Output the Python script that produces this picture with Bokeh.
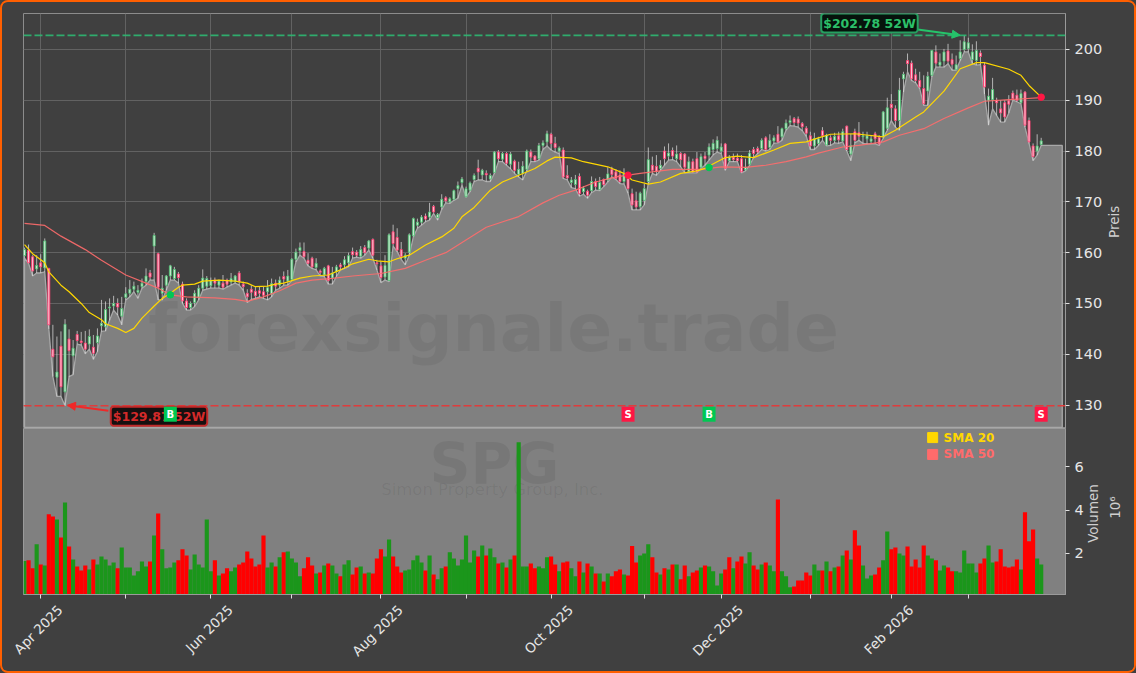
import math
from bokeh.core.properties import value
from bokeh.embed import file_html
from bokeh.layouts import column
from bokeh.models import (Arrow, ColumnDataSource, FixedTicker, GlobalInlineStyleSheet, Label,
                          LinearAxis, NormalHead, Range1d, Span)
from bokeh.plotting import figure
from bokeh.resources import INLINE

opens = [159.4,160.5,159.2,156.8,158,157,156.9,141,135.5,141.6,
132.6,143,139.7,143.9,142.6,142.2,142,141.4,142.3,145.6,
145.4,149.1,149.5,150,147.5,151.2,152,152.8,152.2,153.3,
154.3,156,161.3,159.8,152,153.6,155.4,154.9,155.8,153.8,
150.5,149.2,150.2,151.2,153,153.4,153.5,154.6,153.6,154,
154.6,154.2,154.3,156,153.8,152,152.8,152.4,152.5,152.3,
152.3,151.9,154,153.6,155.3,154.4,154.7,158.7,160.4,160.2,
158.5,158.9,157.1,156.4,155.6,157.4,155,156.2,157.6,157.6,
158,160.2,160.1,159.3,161,160.9,162.6,158,157.4,155.2,
154.5,164.1,163,160.6,158.9,160.1,163.3,165.4,166,167.2,
167,169.1,166.9,169,170.8,170,170.5,172.6,173.8,171,
172.3,174.4,176.6,175.3,175.6,174.5,175.8,179.8,178.4,179.5,
177.4,178,175.4,175.6,176.4,179.8,179,178.5,181.1,181.8,
183.3,181.5,180,180.2,175.2,173.8,173.4,175,172,172.1,
172.2,174,172.4,174.4,174.3,176.4,175.9,175.3,174,174.6,
171.6,170.2,169.1,170.3,174,177.2,177,176.6,180,179,
180.1,178.5,179.5,179.4,175.9,177.9,178.5,176.8,179,179.2,
180.3,180.5,180,181.4,178.1,178.8,178.6,178.5,176.3,177.4,
180.3,180.5,180.5,182.6,180.7,182,183.3,182.8,184.4,185.6,
186.4,186.3,185.4,184.5,183,181,181.5,184,181.2,182.6,
182.1,183,182,184.9,179.4,183.8,183.6,182.8,182.4,181.9,
183.4,182.7,182.8,184.5,189.2,188.3,186,194.2,197.8,197.3,
195,193.9,192.3,191.8,194.9,199.5,196.9,197.7,199.7,198,
196,198.2,200,200.2,198,197.8,199.3,196.9,190,190.1,
190,188.3,189.5,189.9,191.4,191,189.5,191.6,186,181,180,181.3]

closes = [160.6,158,156.4,157.5,157.2,162.3,145.8,139.5,136.5,133.6,
145.9,140.7,141.2,142.7,142.3,141,143.5,140.2,143.6,146.1,
148.8,149.3,150,149.3,149,151.9,152.8,153.4,152.6,154,
155.4,155.2,163.4,153.2,153,155.4,157.4,156.7,155.1,150.5,
149.2,150,152,153,155,154.9,154.5,154,154.4,153.2,
153.8,154.9,155.4,154.3,153.3,151.3,152.2,151.5,152,151.6,
153.1,153.9,153.4,154.6,154.8,155.4,158.7,160.1,161,159.2,
157.9,157.2,157.9,156.1,156.9,154.5,156,157.2,157.2,158.6,
159.4,159.6,159.5,160.6,160,162.3,159.5,157.8,155.1,157.5,
163.5,161.8,160.5,159.2,159.5,163.5,166.7,166,167,166.6,
168,168,167.5,170.5,170.2,170.6,172.2,173.2,174.5,172.6,
173.7,175.2,175.9,176.2,175.3,175.2,179.8,178.5,179.5,177.6,
179.4,176.2,176.4,177,180,178.8,178.2,181.1,181.6,183.4,
181.5,180.7,180.6,174.9,174.7,174.3,174.4,171.6,172.7,171.3,
174,173,173.8,173.4,175.5,175.4,174.6,174,175.5,172.6,
169.4,169,171.7,172.6,178.3,176.2,176,177.2,178.5,179.6,
179,179.4,178.3,176.8,177.9,175.9,175.9,178.9,178.5,180.8,
181.5,182.1,180.8,176.6,178.8,178.3,178.1,175.9,176.8,179.6,
179.5,179.8,182.1,180.3,182.1,182.6,181.8,184.4,185.5,186,
185.6,185.5,184.8,183.5,181,182.5,182.4,183,183.1,182.1,
182.9,182.2,183.8,180.3,181.1,182.1,182.9,183,183,182.4,
182.4,181.4,187.7,188.5,188.5,186,192,195.1,197.2,194.2,
193.9,192.6,189.3,194.7,199.8,197.3,197.5,199.5,197.7,197.1,
197,199.5,201.5,201.3,199.5,199.8,198.6,192.6,190.8,192.1,
189.5,187.5,186.7,189.2,190.3,190,191.3,185.1,181.8,178.9,181,182]

highs = [161,161.6,159.5,159.5,159.7,162.8,157,145.8,143.5,144.5,
146.9,144.9,142.8,144.6,144.4,144.6,144.9,143.8,145.1,150.7,
150.4,151,151.5,151,151.3,153.2,154.6,154.3,153.6,154.9,
156.9,156.6,163.9,160,155.6,155.6,157.6,157.2,156.2,154.3,
151,150.4,152.6,153.6,156.7,155.4,155.1,155.1,154.7,155.6,
154.9,156,155.6,156.4,154.3,152.8,153.6,153.3,153.4,153.3,
154.6,154.9,154.7,155.3,156.3,156.6,158.9,160.8,162,162,
159.9,159.2,158.9,156.7,157.2,157.6,157.2,157.6,158,159.3,
160,161,160.5,161.3,161.5,162.5,162.8,158.6,158.2,159.5,
163.8,165.5,164.8,162.1,159.9,163.8,166.9,166.7,167.4,167.7,
169.8,169.4,167.8,171.5,171.1,170.9,172.4,174,174.9,173,
174,175.6,178.3,176.5,176.2,175.6,180,180.2,179.8,179.8,
179.8,178.3,177.9,178,180.3,180.3,179.2,181.6,182.1,184,
183.6,182.8,180.9,180.7,177.2,174.9,175.3,175.6,173.1,172.4,
175,174.6,174.9,174.6,176.8,176.9,176.4,176.2,176.6,175.6,
172.6,172,172,173.5,180.7,178.9,179.2,178.2,180.9,181.5,
180.7,181.1,179.8,179.6,178.9,178.5,179.8,179.5,179.8,181.5,
182.3,182.9,181.5,181.6,179.2,179.5,179.5,179.2,178.5,180.2,
180.8,180.9,182.5,182.9,183.3,183.1,184.9,184.6,186.2,187,
186.7,186.8,185.7,184.9,183.8,183.6,182.8,184.7,183.4,183.1,
183.6,183.8,184.4,185,183.4,184.4,185.7,183.8,183.8,183.1,
183.8,183.1,187.9,190.5,191.2,189,194.4,195.6,199.2,197.8,
196.2,195.6,194.9,195.6,199.8,200.8,199.2,200.1,201.1,199.2,
198.8,201.8,202.78,202.3,201,201.6,199.8,197.5,192.3,194.4,
190.5,190,190,191,191.9,192.1,192.1,191.8,186.6,181.5,183.3,182.6]

lows = [158.9,157.9,155.4,156,156,156.2,145,135.6,131.7,131.7,
129.87,135.6,136,142,141.8,140.1,141,139,140.5,144.5,
144.6,146.7,148.7,147.7,145.8,150.7,151.3,152.3,151,153,
153.6,154.6,154.6,150.7,150.7,152.6,154.6,154.6,154,150,
148.7,148.7,149.4,150.7,152.6,152.8,153,153,153,152.8,
153.2,153.6,154,153.6,152.6,150.2,150.8,151,151.3,151,
150.7,151.3,152.6,153,153.6,153.6,154.5,158.2,159.5,158.9,
157.4,156.9,156.6,155.4,155.3,153.8,153.8,155.3,156.6,156.9,
157.2,158.9,159.1,158.9,159.5,160.5,158.9,156.6,154.1,154.6,
154.3,161.3,160.2,158.7,157.6,159.5,163.1,164.8,165.4,166.1,
166.4,167.7,166.4,168.5,169.8,169.7,170.3,170.7,173.3,170.9,
172,174,174.3,174.3,174,174,175.6,177.9,177.9,177.2,
176.5,175.6,174.9,174.3,176.1,177.9,177.9,178.2,180.3,181,
180.2,179.8,179.5,174.6,174.3,172.8,172.6,171.1,171.5,170.7,
171.8,172.3,172.2,173,173.9,174.9,174.4,173.6,173.5,171.7,
168.4,168.4,168.4,169.4,173.6,175.6,175.2,176.2,177.2,178.2,
178.3,177.9,176.9,175.7,175.7,175.7,175.7,176.6,177.2,178.2,
179.2,179.8,179.5,176.2,177.9,177.9,177.9,175.7,176.1,177.2,
178.7,179.5,180.3,180,180.3,181.5,181.6,182.1,184.1,185,
184.9,184.7,184,182.9,180.3,180.3,181.1,182.1,181,181.1,
181.6,181.5,181.8,180,178.1,181.6,182.1,181.5,181.4,181.4,
181.4,181.1,182.5,184.1,186,184.7,184.1,191.6,195.6,193.9,
193.4,192.3,189,189,194.6,196.5,196.5,196.5,197.2,195.9,
195.9,197.8,199.5,199.5,197.2,196.9,197,191.2,185.1,188.3,
187,185.7,185.7,187.5,190,189.7,189.3,184.7,181.5,178.1,179.2,181.1]

volumes = [1.65,1.68,1.31,2.42,1.49,1.44,3.81,3.71,3.57,2.74,
4.36,2.32,1.72,1.40,1.21,1.44,1.26,1.72,1.49,1.86,
1.72,1.44,1.58,1.31,2.28,1.35,1.35,0.98,1.17,1.63,
1.40,1.63,2.83,3.85,2.19,1.31,1.35,1.58,1.68,2.19,
1.91,1.26,1.95,1.49,1.35,3.57,1.17,1.68,0.98,1.07,
1.31,1.17,1.35,1.49,1.58,2.09,1.77,1.40,1.49,2.83,
1.35,1.58,1.40,1.82,2.05,2.09,1.77,1.58,0.94,1.31,
1.82,1.44,1.07,1.12,1.44,1.54,1.44,1.07,0.94,1.49,
1.68,1.03,1.35,1.40,1.07,1.12,1.07,1.77,2.19,1.86,
2.65,1.86,1.40,1.12,1.21,1.26,1.68,1.91,1.58,1.21,
1.91,1.03,0.80,1.31,1.40,2.05,1.77,1.44,1.72,2.83,
1.58,2.14,1.86,2.37,1.91,2.23,1.82,1.54,1.58,1.35,
1.72,1.91,7.14,1.40,1.40,1.54,1.31,1.40,1.31,1.82,
1.86,1.49,1.17,1.58,1.63,1.31,0.94,1.63,1.12,1.54,
1.40,1.07,1.07,0.70,1.07,0.94,1.17,1.26,1.03,0.98,
2.34,1.58,1.91,2.00,2.42,1.82,1.12,1.03,1.31,1.26,
1.49,1.49,0.80,1.44,0.94,1.12,1.21,1.35,1.44,1.40,
1.17,0.52,1.07,1.26,1.82,1.31,1.63,1.86,1.54,2.05,
1.44,1.26,1.49,1.58,1.44,1.17,4.50,1.17,0.94,0.43,
0.47,0.75,0.75,1.12,0.98,1.49,1.21,1.21,1.63,1.17,
1.35,1.40,1.91,2.14,1.72,3.07,2.37,1.44,0.84,0.98,
1.03,1.35,1.68,3.02,2.19,2.28,2.00,1.91,2.32,1.40,
1.72,1.35,2.37,1.91,1.77,1.68,1.21,1.44,1.35,1.17,
1.17,1.12,2.14,1.54,1.54,1.12,1.54,1.77,2.37,1.58,
1.63,2.19,1.40,1.35,1.40,1.72,1.26,3.90,2.56,3.11,1.77,1.49]

volume_dir = ("grrgrgrrgr" "grgrrrgrgg" "gggrgggggg" "grgrggggrr" "rggggggrgr"
              "rggrrrrrrr" "ggrgrggggr" "rrgrgrggrg" "grrgrgrrrg" "grrrgggggr"
              "grggrggggg" "ggrgrggrgr" "grgggrrggg" "rrgrrggrgr" "grgrgrrrgr"
              "rrgggrrgrg" "rgrrgrrgrg" "gggrrgrrgg" "rrgrggrggg" "rrrrrggrgr"
              "grgrgrrggg" "rrggrrggrr" "rrrggrggrr" "ggggggrrgg" "rrrrrrgrrrgg")

tick_idx = [4, 25, 46, 66, 88, 109, 130, 153, 172, 194, 214, 233]
tick_labels = ["Apr 2025", "", "Jun 2025", "", "Aug 2025", "", "Oct 2025", "", "Dec 2025", "", "Feb 2026", ""]
price_ticks = [130, 140, 150, 160, 170, 180, 190, 200]
volume_ticks = [2, 4, 6]

sma20_x = [0,2,5,6,9,11,14,16,19,20,23,25,27,29,30,32,34,36,38,39,42,44,48,52,55,57,60,62,64,66,68,71,75,78,81,85,87,90,92,95,99,103,106,108,111,115,118,121,126,129,131,135,138,144,148,150,154,157,162,166,168,171,173,176,180,185,189,193,196,199,205,212,215,220,222,227,231,235,237,243,246,248,251]
sma20 = [161.6,159.8,158,156.2,153.6,152.3,150,148.2,146.8,146,145.1,144.3,145.1,147.1,147.9,149.5,151,152,153.2,153.6,153.8,154.4,154.6,154.4,154,153.3,153.4,153.8,154,154.5,155,155.4,155.6,156.6,157.8,158.7,158.4,158.2,158.8,159.5,161.5,163.1,164.8,167.06,168.9,172.3,173.9,174.9,176.55,178.06,178.8,178.66,177.9,176.9,175.6,174.3,173.5,173.9,175.6,176.1,176.6,177.9,178.7,179,178.7,180.2,181.5,181.8,182.6,183.3,183.4,182.8,184.1,186.7,187.7,191.8,196.2,197.4,197.4,196.1,194.9,192.9,190.6]
sma50_x = [0,5,9,15,19,25,30,33,36,40,47,52,55,59,63,67,71,76,81,88,94,99,104,109,114,122,128,132,136,141,146,152,160,167,172,178,183,188,193,196,202,206,212,216,222,227,233,237,243,251]
sma50 = [165.75,165.35,163.25,160.6,158.5,155.6,154,153,151.7,151.3,151.1,150.8,150.4,151.3,152.5,154,154.6,154.95,155.4,155.9,156.9,158.5,160,162.5,165,167.1,169.8,171.3,172.3,173.9,174.9,175.6,176.4,176.4,176.9,176.8,177.2,177.9,178.85,179.6,180.8,181.1,181.8,183.1,184.4,186.4,188.5,189.8,190.1,190.5]

cross_idx = [36, 149, 169, 251]
cross_price = [151.7, 175.25, 176.75, 190.6]
cross_color = ["#00c853", "#ff1744", "#00c853", "#ff1744"]
signal_idx = [36, 149, 169, 251]
signal_text = ["B", "S", "B", "S"]
signal_color = ["#00c853", "#ff1744", "#00c853", "#ff1744"]
SIGNAL_PRICE = 128.2
HIGH_52W = 202.78
LOW_52W = 129.87
AREA_BASE = 125.6
AREA_END = 256.2
LABEL_SHIFT = 4.8

BG = "#404040"
GRAY = "#808080"
TXT = "#e6e6e6"
FONT = "DejaVu Sans"
idx = list(range(len(closes)))
x_range = Range1d(-0.25, 257.0)

css = GlobalInlineStyleSheet(css=(
    "html{background:#404040;}"
    "body{margin:0;width:1136px;height:673px;box-sizing:border-box;overflow:hidden;"
    "background:#404040;border:2.5px solid #ff5f00;border-radius:8px;}"
))


def style_axis(ax):
    ax.axis_line_color = "#9a9a9a"
    ax.major_tick_line_color = "#e0e0e0"
    ax.major_tick_in = 0
    ax.major_tick_out = 4
    ax.minor_tick_line_color = None
    ax.major_label_text_color = TXT
    ax.major_label_text_font = FONT
    ax.major_label_text_font_size = "14.5px"


def text_axis(position, label, standoff, side, fig, angle=math.pi / 2, size="13.5px", color="#cfcfcf"):
    ax = LinearAxis(ticker=FixedTicker(ticks=position),
                    major_label_overrides=dict(zip(position, label)),
                    major_label_orientation=angle, major_label_standoff=standoff,
                    major_label_text_font=FONT, major_label_text_font_size=size,
                    major_label_text_color=color, axis_line_color=None,
                    major_tick_line_color=None, minor_tick_line_color=None,
                    major_tick_in=0, major_tick_out=0)
    fig.add_layout(ax, side)


# ---------- price panel ----------
p1 = figure(width=1131, height=426, x_range=x_range, y_range=Range1d(125.39, 207.07),
            y_axis_location="right", output_backend="svg", toolbar_location=None,
            min_border_left=21, min_border_right=69, min_border_top=11, min_border_bottom=0,
            background_fill_color=BG, border_fill_color=BG, outline_line_color="#8c8c8c")
p1.frame_width = 1042
p1.frame_height = 415
p1.xaxis.visible = False
p1.xgrid.ticker = FixedTicker(ticks=tick_idx)
p1.ygrid.ticker = FixedTicker(ticks=price_ticks)
p1.grid.grid_line_color = "#626262"
p1.grid.grid_line_width = 1
p1.yaxis.ticker = FixedTicker(ticks=price_ticks)
style_axis(p1.yaxis[0])
text_axis([162.9], ["Preis"], 9, "right", p1)

area_x = [idx[0]] + idx + [AREA_END, AREA_END]
area_y = [AREA_BASE] + lows + [closes[-1] - 0.9, AREA_BASE]
p1.patch(area_x, area_y, fill_color=GRAY, fill_alpha=1.0, line_color="#a8a8a8", line_width=1.3)

p1.text(x=[115.8], y=[145.2], text=["forexsignale.trade"], text_font=value(FONT),
        text_font_style="bold", text_font_size="66.3px", text_color="#000000", text_alpha=0.06,
        text_align="center", text_baseline="middle")

src = ColumnDataSource(dict(
    x=idx, top=[max(o, c) for o, c in zip(opens, closes)],
    bottom=[min(o, c) for o, c in zip(opens, closes)], high=highs, low=lows,
    fill=["#dcefe0" if c >= o else "#f9d0da" for o, c in zip(opens, closes)],
    line=["#4fbf73" if c >= o else "#ff3d71" for o, c in zip(opens, closes)],
))
p1.segment("x", "high", "x", "low", source=src, line_color="#e4e4e4", line_alpha=0.7, line_width=1)
p1.vbar("x", 0.48, "bottom", "top", source=src, fill_color="fill", line_color="line", line_width=0.9)

p1.line(sma50_x, sma50, line_color="#ff6b6b", line_width=1.2, line_alpha=0.9)
p1.line(sma20_x, sma20, line_color="#ffd700", line_width=1.2)
p1.scatter(cross_idx, cross_price, size=6.5, color=cross_color, marker="circle")

p1.add_layout(Span(location=HIGH_52W, dimension="width", line_color="#2eb872", line_alpha=0.9,
                   line_dash="8 3", line_width=1.7))
p1.add_layout(Span(location=LOW_52W, dimension="width", line_color="#f03030", line_alpha=0.85,
                   line_dash="8 3", line_width=1.7))

p1.add_layout(Arrow(end=NormalHead(size=8, fill_color="#25c46a", line_color="#25c46a"),
                    x_start=220.5, y_start=203.9, x_end=231, y_end=HIGH_52W,
                    line_color="#25c46a", line_width=2))
p1.add_layout(Arrow(end=NormalHead(size=8, fill_color="#f02828", line_color="#f02828"),
                    x_start=20.7, y_start=128.9, x_end=10.6, y_end=LOW_52W + 0.1,
                    line_color="#f02828", line_width=2))
p1.add_layout(Label(x=208.6, y=205.2, text="$202.78 52W", text_font=FONT, text_font_style="bold",
                    text_font_size="12.5px", text_color="#2cc069", text_align="center",
                    text_baseline="middle", background_fill_color="#06130c",
                    border_line_color="#25a060", border_line_width=2, border_radius=3,
                    padding=2))
p1.add_layout(Label(x=33.2, y=127.8, text="$129.87 52W", text_font=FONT, text_font_style="bold",
                    text_font_size="12.5px", text_color="#d42a2a", text_align="center",
                    text_baseline="middle", background_fill_color="#161010",
                    border_line_color="#c02a2a", border_line_width=2, border_radius=3,
                    padding=2))

sig_price = [SIGNAL_PRICE] * len(signal_idx)
p1.rect(signal_idx, sig_price, width=13, height=15, width_units="screen", height_units="screen",
        fill_color=signal_color, line_color=None, level="overlay")
p1.text(signal_idx, sig_price, text=signal_text, text_font=value(FONT), text_font_style="bold",
        text_font_size="10px", text_color="#ffffff", text_align="center", text_baseline="middle",
        level="overlay")

# ---------- volume panel ----------
p2 = figure(width=1131, height=242, x_range=x_range, y_range=Range1d(0.10, 7.78),
            y_axis_location="right", output_backend="svg", toolbar_location=None,
            min_border_left=21, min_border_right=69, min_border_top=0, min_border_bottom=76,
            background_fill_color=GRAY, border_fill_color=BG, outline_line_color="#9a9a9a")
p2.frame_width = 1042
p2.frame_height = 166
p2.grid.visible = False
p2.yaxis.ticker = FixedTicker(ticks=volume_ticks)
p2.xaxis.ticker = FixedTicker(ticks=tick_idx)
p2.xaxis.major_label_overrides = {t: "" for t in tick_idx}
p2.xaxis.major_label_standoff = 0
style_axis(p2.yaxis[0])
style_axis(p2.xaxis[0])
text_axis([2.49], ["Volumen"], 7, "right", p2)
text_axis([3.6], ["10\u2076"], 3, "right", p2)
labelled = [(round(t + LABEL_SHIFT, 1), lab) for t, lab in zip(tick_idx, tick_labels) if lab]
text_axis([t for t, _ in labelled], [lab for _, lab in labelled], 9, "below", p2,
          angle=math.pi / 4, size="13.5px", color=TXT)

p2.text([116], [6.13], text=["SPG"], text_font=value(FONT), text_font_style="bold",
        text_font_size="57px", text_color="#000000", text_alpha=0.07, text_align="center",
        text_baseline="alphabetic")
p2.text([115.5], [4.95], text=["Simon Property Group, Inc."], text_font=value(FONT),
        text_font_size="16.5px", text_color="#000000", text_alpha=0.07, text_align="center",
        text_baseline="middle")

p2.vbar(idx, 1.03, 0, volumes, fill_color=["#ff0000" if d == "r" else "#1b961b" for d in volume_dir],
        line_color=None)

legend_names = ["SMA 20", "SMA 50"]
legend_colors = ["#ffd700", "#ff6b6b"]
legend_y = [7.36, 6.58]
p2.scatter([224.2, 224.2], legend_y, marker="square", size=10, color=legend_colors)
p2.text([226.9, 226.9], legend_y, text=legend_names, text_font=value(FONT), text_font_style="bold",
        text_font_size="12px", text_color=legend_colors, text_baseline="middle")

page = column(p1, p2, spacing=0, stylesheets=[css])
open("out.html", "w").write(file_html(page, INLINE))
